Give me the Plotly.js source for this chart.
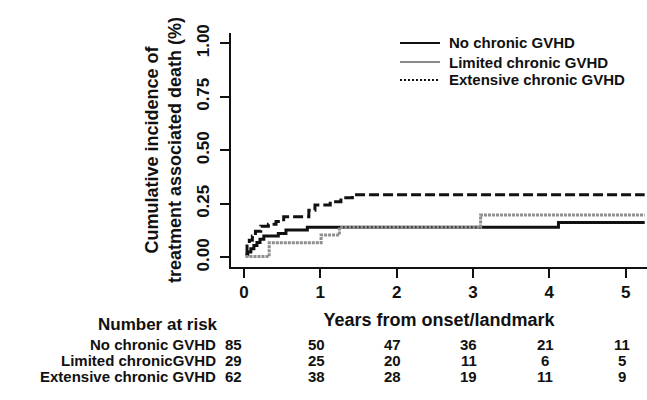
<!DOCTYPE html>
<html>
<head>
<meta charset="utf-8">
<script src="https://cdn.plot.ly/plotly-3.0.1.min.js"></script>
<style>html,body{margin:0;padding:0;background:#fff;}#chart{width:647px;height:400px;}</style>
</head>
<body>
<div id="chart"></div>
<script>
// ---- data ----
var groupNames = ["No chronic GVHD", "Limited chronic GVHD", "Extensive chronic GVHD"];
var riskLabels = ["No chronic GVHD", "Limited chronicGVHD", "Extensive chronic GVHD"];

var yearsNone = [0.02, 0.05, 0.09, 0.13, 0.17, 0.21, 0.26, 0.45, 0.55, 0.83, 4.12, 5.25];
var cifNone   = [0.012, 0.025, 0.040, 0.055, 0.070, 0.085, 0.100, 0.112, 0.128, 0.141, 0.163, 0.163];

var yearsLimited = [0.02, 0.33, 1.01, 1.25, 3.10, 5.25];
var cifLimited   = [0.004, 0.068, 0.104, 0.140, 0.198, 0.198];

var yearsExtensive = [0.02, 0.04, 0.07, 0.11, 0.15, 0.22, 0.32, 0.42, 0.52, 0.85, 0.93, 1.13, 1.27, 1.42, 5.25];
var cifExtensive   = [0.020, 0.060, 0.080, 0.100, 0.122, 0.145, 0.155, 0.168, 0.190, 0.220, 0.245, 0.260, 0.278, 0.293, 0.293];

var riskTimes = [0, 1, 2, 3, 4, 5];
var riskNone = [85, 50, 47, 36, 21, 11];
var riskLimited = [29, 25, 20, 11, 6, 5];
var riskExtensive = [62, 38, 28, 19, 11, 9];

var xTickVals = [0, 1, 2, 3, 4, 5];
var yTickVals = [0, 0.25, 0.5, 0.75, 1];
var yTickText = ["0.00", "0.25", "0.50", "0.75", "1.00"];

// ---- layout helpers (pixel -> paper) ----
var W = 647, H = 400, ML = 231, MR = 0, MT = 33, MB = 133;
function px(x) { return (x - ML) / (W - ML - MR); }
function py(y) { return (H - MB - y) / (H - MT - MB); }

var FONT = "Liberation Sans, Arial, sans-serif";

var traces = [
  {x: yearsNone, y: cifNone, mode: "lines", line: {shape: "hv", color: "#111", width: 3}, showlegend: false, name: groupNames[0]},
  {x: yearsLimited, y: cifLimited, mode: "lines", line: {shape: "hv", color: "#8f8f8f", width: 3, dash: "3px,1px"}, showlegend: false, name: groupNames[1]},
  {x: yearsExtensive, y: cifExtensive, mode: "lines", line: {shape: "hv", color: "#111", width: 3, dash: "10px,4px"}, showlegend: false, name: groupNames[2]}
];

var shapes = [];
var annotations = [];
var legendRows = [43, 62, 80];
var legendStyles = [
  {color: "#111", width: 2, dash: "solid"},
  {color: "#8a8a8a", width: 2, dash: "solid"},
  {color: "#111", width: 2, dash: "2px,2px"}
];
for (var i = 0; i < groupNames.length; i++) {
  shapes.push({type: "line", xref: "paper", yref: "paper", x0: px(400), x1: px(440), y0: py(legendRows[i]), y1: py(legendRows[i]), line: legendStyles[i]});
  annotations.push({xref: "paper", yref: "paper", x: px(448), y: py(legendRows[i]), xanchor: "left", yanchor: "middle", showarrow: false, borderpad: 0,
    text: "<b>" + groupNames[i] + "</b>", font: {family: FONT, size: 15, color: "#111"}});
}

// number at risk table
annotations.push({xref: "paper", yref: "paper", x: px(219), y: py(324), xanchor: "right", yanchor: "middle", showarrow: false, borderpad: 0,
  text: "<b>Number at risk</b>", font: {family: FONT, size: 17, color: "#111"}});
var riskRows = [riskNone, riskLimited, riskExtensive];
var riskY = [344, 360, 376];
for (var r = 0; r < riskRows.length; r++) {
  annotations.push({xref: "paper", yref: "paper", x: px(217), y: py(riskY[r]), xanchor: "right", yanchor: "middle", showarrow: false, borderpad: 0,
    text: "<b>" + riskLabels[r] + "</b>", font: {family: FONT, size: 15, color: "#111"}});
  for (var c = 0; c < riskTimes.length; c++) {
    annotations.push({xref: "x", yref: "paper", x: riskTimes[c], y: py(riskY[r]), xanchor: "center", yanchor: "middle", showarrow: false, borderpad: 0,
      xshift: c === 0 ? -10 : -4,
      text: "<b>" + riskRows[r][c] + "</b>", font: {family: FONT, size: 15, color: "#111"}});
  }
}

var layout = {
  width: W, height: H,
  margin: {l: ML, r: MR, t: MT, b: MB, pad: 0},
  paper_bgcolor: "#fff", plot_bgcolor: "#fff",
  showlegend: false,
  font: {family: FONT, color: "#111"},
  xaxis: {
    range: [-0.17, 5.28], showgrid: false, zeroline: false, showline: true, linecolor: "#111", linewidth: 2,
    ticks: "outside", ticklen: 9, tickwidth: 2, tickcolor: "#111", tickvals: xTickVals,
    tickfont: {family: FONT, size: 17, color: "#111", weight: "bold"}, ticklabelstandoff: 0,
    title: {text: "<b>Years from onset/landmark</b>", font: {family: FONT, size: 18, color: "#111"}, standoff: 12}
  },
  yaxis: {
    range: [-0.045, 1.048], showgrid: false, zeroline: false, showline: true, linecolor: "#111", linewidth: 2,
    ticks: "outside", ticklen: 9, tickwidth: 2, tickcolor: "#111", tickvals: yTickVals, ticktext: yTickText,
    tickangle: -90, tickfont: {family: FONT, size: 17, color: "#111", weight: "bold"}, ticklabelstandoff: 4,
    title: {text: "<b>Cumulative incidence of<br>treatment associated death (%)</b>", font: {family: FONT, size: 18, color: "#111"}, standoff: 8}
  },
  shapes: shapes,
  annotations: annotations
};

Plotly.newPlot("chart", traces, layout, {displayModeBar: false, staticPlot: true});
</script>
</body>
</html>
